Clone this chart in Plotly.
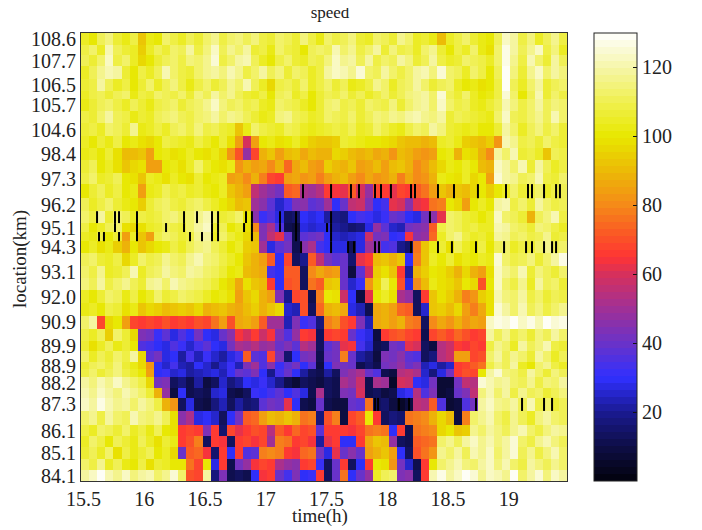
import plotly.graph_objects as go

# Speed (km/h) per road section, top row first; one column = 4 minutes from 15.48 h.
r01=[104,100,110,114,106,103,108,92,102,100,112,108,104,110,106,112,116,108,112,114,110,114,108,106,112,110,106,114,108,102,112,108,110,114,106,104,112,110,106,116,112,104,106,102,90,104,108,112,106,102,100,110,122,118,108,114,104,110,116,108]
r02=[108,112,104,120,110,106,104,94,104,110,106,112,110,118,108,114,122,110,116,112,118,106,108,102,112,108,106,100,110,112,110,120,112,116,108,112,118,106,114,108,110,104,112,116,106,100,108,104,112,102,98,112,126,118,110,116,122,108,114,104]
r03=[110,106,112,122,108,112,104,96,100,106,110,112,108,114,112,116,124,108,112,118,120,110,104,100,108,112,106,104,110,108,114,122,116,118,110,118,108,112,110,118,114,106,110,118,108,104,106,112,110,108,104,112,126,116,108,120,112,106,118,110]
r04=[104,110,116,120,118,106,100,108,104,110,120,112,108,106,112,116,118,114,120,116,108,112,118,110,114,106,112,110,104,108,118,122,120,116,124,112,110,118,112,108,112,118,120,114,124,112,110,104,112,108,100,110,128,114,106,116,122,112,118,114]
r05=[106,108,118,110,104,108,100,106,112,104,110,114,108,102,108,112,106,110,116,112,120,110,104,96,108,110,106,112,104,108,112,106,110,102,104,108,116,112,104,110,112,118,112,106,110,112,104,100,102,98,100,108,128,110,104,112,118,106,110,112]
r06=[104,108,110,106,110,112,102,108,106,112,110,108,112,106,114,110,118,112,116,110,106,104,108,100,110,112,104,108,100,106,110,108,112,106,110,104,108,112,106,110,114,116,118,112,124,110,106,112,104,100,102,108,124,112,100,110,120,106,112,108]
r07=[102,106,110,112,108,104,110,106,102,108,110,112,106,110,112,116,122,114,110,112,108,110,104,102,112,110,108,104,100,106,112,114,108,110,106,112,110,108,114,106,112,116,118,112,122,112,108,110,104,102,106,110,120,114,108,112,118,110,114,112]
r08=[108,106,112,118,110,108,102,106,104,110,112,114,110,108,112,114,118,112,116,114,110,106,102,104,114,116,110,108,104,106,112,110,108,112,106,110,114,112,116,114,118,120,116,114,118,106,110,108,106,104,102,112,122,110,108,112,116,110,120,112]
r09=[106,108,104,112,110,106,116,102,104,108,104,110,112,108,114,108,110,106,104,92,102,112,108,106,104,110,108,104,102,104,106,108,106,110,104,106,112,108,104,102,108,112,110,118,114,106,104,102,104,100,100,106,118,112,104,110,114,108,112,106]
r10=[104,100,106,102,108,100,102,98,96,100,108,106,104,102,108,104,100,106,98,85,60,84,100,102,98,100,104,98,94,92,92,94,106,104,102,100,100,98,96,92,90,90,88,90,104,106,102,94,92,90,94,82,120,116,108,110,106,112,108,106]
r11=[102,104,100,106,98,90,90,92,84,100,102,98,100,104,100,98,102,96,82,70,48,68,88,92,84,90,92,86,90,88,88,96,94,90,88,90,86,88,82,90,88,84,82,84,100,102,88,98,96,88,80,118,112,120,106,108,104,92,110,108]
r12=[106,110,100,104,98,92,96,98,84,84,100,102,98,104,112,104,100,98,102,82,88,84,86,80,88,74,86,90,84,82,94,90,88,92,84,86,90,84,90,92,88,80,84,90,96,102,100,104,100,90,88,122,118,112,120,106,118,110,104,108]
r13=[108,112,104,106,110,100,98,92,104,102,98,104,100,98,106,100,102,104,84,86,80,88,78,68,66,84,86,82,84,78,84,88,90,84,80,86,82,84,88,78,86,80,82,88,102,100,98,104,96,100,84,124,118,116,110,112,120,108,106,112]
r14=[100,106,110,104,108,100,102,84,102,104,110,106,108,104,106,102,100,104,92,88,84,55,50,46,42,72,74,52,50,54,66,64,62,72,60,48,68,66,62,68,66,72,76,84,92,88,92,90,96,100,94,100,104,112,106,108,112,104,108,110]
r15=[110,104,108,112,106,102,100,94,106,110,112,108,106,110,112,108,104,100,96,90,92,50,46,38,26,34,44,46,38,40,50,30,40,56,58,44,30,34,62,60,46,62,64,76,78,100,96,84,100,104,100,118,120,108,112,106,118,112,108,110]
r16=[112,108,118,106,112,110,104,108,106,108,112,114,110,112,116,120,112,106,108,112,100,46,32,36,28,14,16,30,28,30,22,20,18,30,34,32,28,32,40,38,30,28,42,46,62,112,110,106,104,100,104,122,112,110,106,88,110,114,120,108]
r17=[108,100,104,110,112,98,96,98,104,106,110,108,106,112,118,122,106,110,100,104,98,80,44,52,36,12,10,28,26,28,28,22,20,16,18,28,48,38,26,24,42,44,46,72,108,112,110,106,108,104,104,120,118,112,110,106,114,112,108,104]
r18=[104,102,108,100,106,84,104,92,84,108,112,110,106,108,116,118,104,112,106,102,96,90,44,56,62,40,12,38,40,42,30,26,24,26,28,58,42,44,30,32,64,46,48,74,104,112,116,108,104,106,102,118,116,110,112,108,110,116,106,108]
r19=[100,104,98,102,94,88,100,92,96,100,102,108,104,110,114,116,110,106,100,104,94,92,50,28,38,42,12,46,52,34,30,28,28,14,28,50,46,34,36,20,16,76,92,102,106,98,110,104,100,108,100,110,112,104,108,106,112,116,110,112]
r20=[110,112,106,104,108,96,104,112,108,110,116,112,110,116,120,114,112,108,104,100,92,88,84,72,30,68,14,20,72,56,42,38,40,16,62,66,90,92,88,92,30,78,92,104,100,106,98,102,100,104,102,124,112,108,110,114,106,112,118,126]
r21=[112,108,116,104,106,110,120,104,110,112,118,114,112,118,116,112,110,106,100,102,90,88,86,34,30,72,72,14,80,86,82,84,40,10,38,60,94,98,92,66,22,88,94,100,98,94,88,96,88,84,98,122,116,112,120,106,114,110,106,112]
r22=[114,110,118,108,112,116,110,106,116,118,112,120,116,114,112,110,106,100,96,86,98,92,90,66,30,70,72,14,76,72,92,94,40,26,32,82,96,110,100,70,28,80,90,102,98,96,92,100,96,70,100,122,112,108,116,104,118,110,112,106]
r23=[104,100,106,112,110,102,108,100,104,112,106,108,112,110,108,104,100,102,98,84,92,96,88,84,44,20,68,70,12,78,100,98,58,30,10,62,100,104,98,52,48,14,66,92,98,94,88,78,82,94,98,120,114,112,118,108,112,106,110,108]
r24=[102,104,100,108,106,98,102,92,96,94,90,92,94,92,96,88,90,92,88,86,90,94,88,92,96,26,24,70,14,74,88,90,86,28,24,12,86,88,84,74,72,14,26,92,94,90,96,84,78,86,98,124,118,112,120,110,114,108,112,116]
r25=[112,118,68,96,100,84,68,66,68,66,70,66,68,66,70,68,76,84,70,86,88,84,72,50,50,24,44,32,36,18,78,82,70,66,44,24,86,88,84,88,78,76,14,80,86,82,88,82,86,84,122,126,124,128,122,126,120,128,124,126]
r26=[108,104,110,94,112,106,96,44,42,32,38,28,36,30,42,30,28,40,46,64,60,66,58,64,44,36,48,66,64,14,66,68,66,40,32,28,10,66,70,72,68,66,12,68,72,68,74,70,66,68,118,110,116,108,112,106,114,110,118,112]
r27=[106,98,104,110,102,106,100,36,34,30,28,36,32,26,34,38,30,28,42,52,50,54,48,50,40,44,38,54,50,14,38,42,62,64,34,26,12,14,42,40,62,60,14,10,54,58,66,64,68,66,108,116,112,104,118,110,114,120,108,106]
r28=[112,104,110,106,112,108,118,96,38,42,28,30,22,34,24,32,26,22,28,34,72,38,36,68,44,16,30,42,44,12,40,42,78,40,22,18,10,44,42,46,38,36,14,18,54,58,84,84,68,70,112,118,110,116,112,106,118,112,104,110]
r29=[106,110,112,108,114,106,102,96,82,30,26,34,24,22,30,26,20,26,32,24,44,50,36,46,32,38,42,30,38,10,30,44,42,40,12,16,12,42,44,48,40,44,24,28,22,26,66,68,72,76,108,114,110,118,104,100,112,116,108,104]
r30=[108,112,106,110,114,108,104,100,84,30,32,26,28,22,24,26,28,24,32,40,38,44,30,20,34,40,30,22,14,12,22,14,44,48,52,40,36,12,10,54,56,52,26,18,28,42,66,70,68,100,118,124,114,112,108,118,112,106,114,110]
r31=[118,114,120,116,122,116,112,108,96,42,44,14,18,12,22,10,14,26,18,22,30,28,32,26,20,12,8,14,12,10,14,12,52,48,58,12,52,50,6,60,58,30,28,42,8,8,42,56,54,124,120,116,118,112,110,116,108,114,112,118]
r32=[120,116,122,118,114,120,116,112,106,88,48,10,30,12,14,12,26,28,12,10,14,32,30,34,38,30,36,28,12,52,14,12,44,42,60,12,14,10,12,28,32,54,36,44,8,10,40,44,56,114,120,112,118,108,116,110,112,106,110,114]
r33=[122,118,126,120,116,118,112,118,114,108,88,82,14,28,12,10,18,24,14,22,16,18,38,42,40,62,30,12,10,40,12,10,10,40,38,76,14,16,10,6,10,56,54,72,36,8,10,36,42,118,122,116,114,118,110,120,108,112,106,110]
r34=[112,116,108,118,112,110,120,114,112,116,110,98,46,52,28,30,26,14,30,42,72,74,84,90,88,92,88,76,78,18,70,78,10,68,72,100,66,14,18,16,76,78,80,88,96,90,10,78,112,116,120,112,108,116,110,104,114,118,112,110]
r35=[108,104,112,110,106,112,104,108,102,110,100,98,66,68,66,44,66,16,68,62,66,70,68,54,72,66,74,68,70,38,66,66,66,64,68,76,78,76,30,66,12,76,78,80,96,100,92,94,116,112,118,114,110,116,120,112,108,114,118,116]
r36=[104,112,108,100,110,106,102,110,104,98,106,102,66,70,78,14,66,64,14,66,68,64,68,50,78,76,66,68,64,22,62,66,30,30,66,86,92,90,48,14,12,72,74,76,112,116,110,118,122,116,120,114,118,124,112,108,116,120,114,110]
r37=[106,110,104,112,98,108,102,106,110,100,104,96,40,72,74,64,16,66,30,66,36,38,78,80,78,66,64,74,76,42,28,62,40,46,40,84,88,92,84,30,14,70,76,82,116,112,118,110,120,116,122,112,118,124,110,116,108,114,120,112]
r38=[112,108,116,104,110,102,100,108,98,106,104,100,100,76,68,100,28,66,12,42,48,64,68,66,52,48,46,66,68,32,14,40,66,14,30,66,100,98,82,42,26,12,66,100,112,116,120,114,112,118,122,114,120,112,108,118,114,110,116,112]
r39=[118,122,128,120,116,122,114,118,120,112,116,124,112,70,68,118,18,44,12,14,12,30,64,66,40,34,44,30,32,66,14,40,76,30,40,48,104,110,112,44,46,14,66,120,126,118,122,128,124,116,122,120,116,128,112,118,124,114,122,118]
speed_rows=[r01,r02,r03,r04,r05,r06,r07,r08,r09,r10,r11,r12,r13,r14,r15,r16,r17,r18,r19,r20,r21,r22,r23,r24,r25,r26,r27,r28,r29,r30,r31,r32,r33,r34,r35,r36,r37,r38,r39]
assert all(len(r)==60 for r in speed_rows),[len(r) for r in speed_rows]

# Section boundaries on the location axis, top first.
row_edges=[103.86,103.31,102.87,102.38,101.79,101.26,100.9,100.37,99.83,99.25,98.72,98.18,97.6,97.11,96.48,95.9,95.37,94.97,94.56,94.03,93.45,92.91,92.38,91.8,91.22,90.64,90.1,89.65,89.16,88.85,88.49,88.0,87.56,86.98,86.35,85.86,85.37,84.83,84.34,83.85]
location_labels=["108.6","107.7","106.5","105.7","104.6","98.4","97.3","96.2","95.1","94.3","93.1","92.0","90.9","89.9","88.9","88.2","87.3","86.1","85.1","84.1"]
time_start=15.48
time_step=4/60
time_ticks=[15.5,16,16.5,17,17.5,18,18.5,19]
bar_ticks=[20,40,60,80,100,120]

# Sensor dropouts (h): 1-minute gaps, by row number.
dropouts={
14:[17.307,17.538,17.702,17.768,17.90,17.949,18.031,18.196,18.229,18.418,18.55,18.747,18.978,19.159,19.192,19.291,19.39,19.422],
16:[15.612,15.76,15.793,15.941,16.328,16.435,16.558,16.608,16.838,16.887,17.118,17.25,17.538,18.352],
17:[15.76,15.941,16.18,16.328,16.558,16.608,16.822,16.887,17.118,17.25,17.505,17.538],
18:[15.628,15.669,15.793,15.941,16.377,16.476,16.558,16.608,16.887,17.25,17.538],
19:[17.291,17.538,17.678,17.727,17.90,17.933,18.196,18.418,18.533,18.731,18.962,19.143,19.192,19.291,19.357,19.39],
33:[17.90,17.925,18.097,18.18,18.731,19.11,19.291,19.357],
}

cmap_vals=[0,10,20,30,40,50,60,65,72,80,90,100,110,120,130]
cmap_rgb=[(2,2,12),(14,14,70),(26,26,145),(48,48,255),(106,50,200),(160,48,150),(214,48,92),(255,52,52),(250,90,36),(245,138,24),(236,186,6),(232,232,0),(240,240,80),(246,246,170),(255,255,255)]

def color_at(v):
    for a,b,ca,cb in zip(cmap_vals,cmap_vals[1:],cmap_rgb,cmap_rgb[1:]):
        if v<=b:
            f=(v-a)/(b-a)
            return "rgb(%d,%d,%d)"%tuple(round(p+(q-p)*f) for p,q in zip(ca,cb))
    return "rgb(255,255,255)"

bands=64
scale=[]
for k in range(bands):
    c=color_at((k+0.5)/bands*130)
    scale+= [[k/bands,c],[(k+1)/bands,c]]

ncols=len(r01)
x_edges=[time_start+i*time_step for i in range(ncols+1)]
y_edges=row_edges[::-1]
z=speed_rows[::-1]
centres=[(row_edges[i]+row_edges[i+1])/2 for i in range(0,len(row_edges)-1,2)]

serif="Liberation Serif"
ink="#222"
fig=go.Figure()
fig.add_trace(go.Heatmap(x=x_edges,y=y_edges,z=z,zmin=0,zmax=130,colorscale=scale,zsmooth=False,hoverongaps=False,
    colorbar=dict(x=(594-81)/486,xanchor="left",xpad=0,y=0.5,yanchor="middle",ypad=0,len=1,thickness=43,
                  tickvals=bar_ticks,ticks="inside",ticklen=4,tickcolor="#111",outlinecolor=ink,outlinewidth=1,
                  tickfont=dict(family=serif,size=20,color=ink))))
dx=[];dy=[]
for row,times in dropouts.items():
    for t in times:
        dx+=[t,t,None]
        dy+=[row_edges[row-1],row_edges[row],None]
fig.add_trace(go.Scatter(x=dx,y=dy,mode="lines",line=dict(color="black",width=2),showlegend=False,hoverinfo="skip"))

# The page body adds an 8 px inset, so the canvas is 8 px smaller than the window.
fig.update_layout(width=694,height=522,margin=dict(l=73,r=135,t=25,b=49),paper_bgcolor="white",plot_bgcolor="white",
    font=dict(family=serif,color=ink),showlegend=False,
    title=dict(text="speed",font=dict(family=serif,size=17,color=ink),xref="container",x=322/694,xanchor="center",yref="container",y=1-4/522,yanchor="middle"),
    annotations=[
      dict(text="time(h)",xref="paper",yref="paper",x=(320-81)/486,y=-(516-481)/448,showarrow=False,xanchor="center",yanchor="middle",font=dict(family=serif,size=19,color=ink)),
      dict(text="location(km)",xref="paper",yref="paper",x=-(81-20)/486,y=(481-259)/448,showarrow=False,textangle=-90,xanchor="center",yanchor="middle",font=dict(family=serif,size=19,color=ink)),
    ])
fig.update_xaxes(range=[time_start,time_start+ncols*time_step],tickvals=time_ticks,ticktext=["15.5","16","16.5","17","17.5","18","18.5","19"],
    ticks="",showgrid=False,zeroline=False,showline=True,linecolor="#333",linewidth=1,mirror=True,
    tickfont=dict(family=serif,size=20,color=ink))
fig.update_yaxes(range=[row_edges[-1],row_edges[0]],tickvals=centres,ticktext=location_labels,
    ticks="",showgrid=False,zeroline=False,showline=True,linecolor="#333",linewidth=1,mirror=True,
    tickfont=dict(family=serif,size=20,color=ink))
fig.write_html("out.html")
